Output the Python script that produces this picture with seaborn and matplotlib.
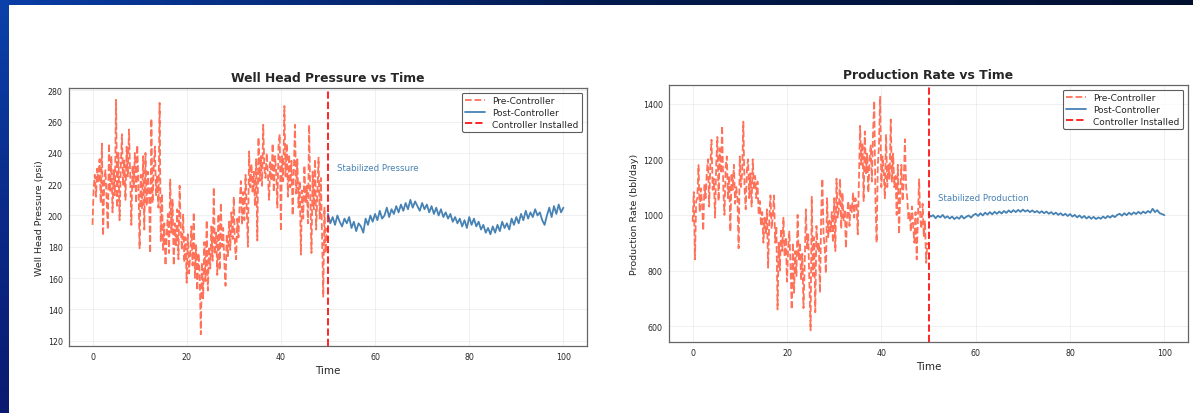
import numpy as np
import pandas as pd
import matplotlib
matplotlib.use('Agg')
import matplotlib.pyplot as plt
import seaborn as sns

sns.set_style('white')
plt.rcParams['font.family'] = ['DejaVu Sans']

# time axes (pre: 0.25 step, post: 0.5 step)
t_pre = np.arange(0, 50, 0.25)
t_post = np.arange(50, 100.01, 0.5)
t_install = 50

pressure_pre = [
    194, 218, 226, 212, 230, 221, 236, 208, 246, 187, 222, 229, 210, 191, 246, 215,
    238, 202, 229, 213, 274, 205, 240, 197, 231, 252, 219, 236, 210, 244, 225, 255,
    226, 194, 232, 218, 240, 208, 245, 221, 179, 226, 204, 238, 191, 240, 206, 228,
    215, 176, 262, 208, 231, 244, 213, 226, 205, 272, 183, 214, 178, 195, 168, 188,
    201, 176, 223, 189, 210, 168, 195, 181, 204, 172, 219, 190, 178, 201, 170, 186,
    157, 188, 163, 175, 193, 168, 202, 160, 181, 152, 176, 164, 124, 170, 147, 183,
    158, 197, 152, 180, 166, 193, 171, 218, 175, 189, 162, 201, 165, 208, 180, 192,
    170, 155, 188, 174, 196, 178, 202, 185, 212, 180, 172, 198, 186, 207, 222, 194,
    215, 197, 226, 205, 180, 241, 218, 233, 214, 228, 206, 236, 184, 250, 222, 238,
    219, 258, 230, 224, 240, 226, 210, 235, 222, 246, 215, 238, 229, 205, 244, 252,
    190, 238, 222, 270, 225, 246, 212, 239, 218, 235, 200, 229, 258, 214, 236, 205,
    222, 175, 216, 198, 232, 208, 219, 195, 258, 213, 176, 228, 204, 236, 191, 215,
    237, 198, 224, 187, 148, 205, 176, 192,
]
pressure_post = [
    201, 195, 199, 194, 200, 196, 193, 198, 195, 199,
    192, 196, 190, 195, 193, 189, 198, 194, 200, 196,
    201, 197, 203, 198, 200, 205, 199, 204, 201, 206,
    202, 207, 203, 208, 204, 210, 205, 209, 206, 203,
    208, 204, 207, 202, 206, 201, 205, 200, 204, 199,
    202, 198, 201, 196, 199, 195, 198, 193, 197, 192,
    199, 194, 198, 193, 196, 191, 194, 189, 192, 188,
    193, 189, 194, 190, 196, 192, 195, 191, 198, 194,
    199, 195, 201, 197, 203, 198, 202, 199, 204, 200,
    202, 197, 194, 200, 205, 199, 206, 201, 207, 202,
    205,
]
production_pre = [
    975, 1082, 840, 1050, 1060, 1179, 1010, 1095, 1040, 943, 1110, 1060,
    1150, 1200, 1030, 1180, 1270, 1090, 1130, 990, 1180, 1280, 1050, 1240,
    1150, 1320, 1100, 1000, 1170, 1210, 1060, 1140, 940, 1150, 1090, 1180,
    1040, 1100, 1060, 880, 1210, 1100, 1150, 1335, 1100, 1020, 1160, 1200,
    1060, 1150, 1030, 1200, 1090, 1140, 1060, 1120, 1000, 1050, 960, 1010,
    900, 990, 930, 1020, 810, 980, 1070, 950, 1000, 1070, 900, 960,
    660, 900, 800, 950, 870, 990, 850, 920, 760, 880, 940, 820,
    660, 900, 720, 870, 780, 1000, 840, 900, 765, 860, 665, 820,
    1020, 880, 930, 760, 585, 1065, 780, 920, 650, 960, 870, 900,
    720, 1000, 1130, 930, 880, 790, 1060, 920, 980, 940, 1010, 900,
    1060, 870, 1130, 990, 1020, 1130, 950, 1080, 980, 1020, 880, 1000,
    1050, 960, 1040, 1010, 1080, 990, 1060, 1040, 930, 1130, 1320, 1180,
    1260, 1050, 1300, 1150, 1220, 1080, 1200, 1250, 1120, 1300, 1410, 1050,
    900, 1180, 1250, 1425, 1100, 1210, 1150, 1060, 1290, 1100, 1180, 1130,
    1343, 1120, 1220, 1100, 1140, 1000, 1180, 930, 1080, 1180, 1050, 1120,
    1272, 1100, 1060, 980, 1010, 940, 1030, 960, 900, 1010, 840, 980,
    1128, 990, 950, 1040, 920, 980, 828, 900,
]
production_post = [
    1003, 994, 999, 988, 997, 991, 1000, 989, 995, 987,
    994, 985, 992, 986, 997, 987, 993, 998, 990, 999,
    1004, 996, 1006, 998, 1008, 1001, 1010, 1002, 1011, 1004,
    1012, 1005, 1014, 1007, 1016, 1009, 1017, 1010, 1018, 1011,
    1019, 1012, 1017, 1010, 1016, 1009, 1014, 1007, 1013, 1006,
    1012, 1004, 1010, 1002, 1008, 1000, 1006, 998, 1004, 996,
    1003, 994, 1000, 991, 998, 989, 996, 987, 994, 986,
    993, 985, 991, 986, 994, 988, 996, 990, 998, 992,
    1000, 1004, 997, 1006, 999, 1008, 1001, 1009, 1003, 1011,
    1004, 1012, 1006, 1014, 1008, 1022, 1010, 1017, 1006, 1003,
    999,
]

panels = [
    ('Well Head Pressure vs Time', 'Well Head Pressure (psi)', pressure_pre, pressure_post,
     'Stabilized Pressure', 231, [0.0578, 0.1618, 0.4342, 0.623]),
    ('Production Rate vs Time', 'Production Rate (bbl/day)', production_pre, production_post,
     'Stabilized Production', 1062, [0.5608, 0.1715, 0.435, 0.6208]),
]

W, H = 1193, 414
fig = plt.figure(figsize=(W / 100, H / 100), dpi=100)

# slide frame (top and left bands)
top = fig.add_axes([0, 1 - 6 / H, 1, 6 / H])
top.imshow(np.linspace(0, 1, 256)[None, :], aspect='auto',
           cmap=matplotlib.colors.LinearSegmentedColormap.from_list('t', ['#0a3da6', '#031a4e', '#021030']))
top.axis('off')
left = fig.add_axes([0, 0, 9 / W, 1])
left.imshow(np.linspace(0, 1, 256)[:, None], aspect='auto',
            cmap=matplotlib.colors.LinearSegmentedColormap.from_list('l', ['#0a42aa', '#0a2a8a', '#0a1a70']))
left.axis('off')

for title, ylabel, pre, post, note, note_y, rect in panels:
    ax = fig.add_axes(rect)
    sns.lineplot(x=t_pre, y=pre, ax=ax, color='tomato', ls='--', lw=1.3, alpha=0.9,
                 label='Pre-Controller')
    sns.lineplot(x=t_post, y=post, ax=ax, color='steelblue', lw=1.3, label='Post-Controller')
    ax.axvline(t_install, color='red', ls='--', lw=1.4, alpha=0.85, label='Controller Installed')
    ax.text(52, note_y, note, color='steelblue', fontsize=6.2, va='center')
    ax.set_title(title, fontsize=8.9, fontweight='bold', pad=5)
    ax.set_xlabel('Time', fontsize=7.5, labelpad=3)
    ax.set_ylabel(ylabel, fontsize=6.8, labelpad=3)
    ax.set_xticks([0, 20, 40, 60, 80, 100])
    ax.tick_params(labelsize=5.7, length=2.5, width=0.6, color='#555555', pad=2)
    ax.grid(True, color='#dddddd', lw=0.5, alpha=0.6)
    for s in ax.spines.values():
        s.set_color('#666666')
        s.set_linewidth(0.9)
    leg = ax.legend(loc='upper right', fontsize=6.5, frameon=True, fancybox=True,
                    handlelength=2.2, borderpad=0.4, labelspacing=0.3)
    leg.get_frame().set_edgecolor('#333333')
    leg.get_frame().set_linewidth(0.8)

fig.savefig('out.png', dpi=100)
